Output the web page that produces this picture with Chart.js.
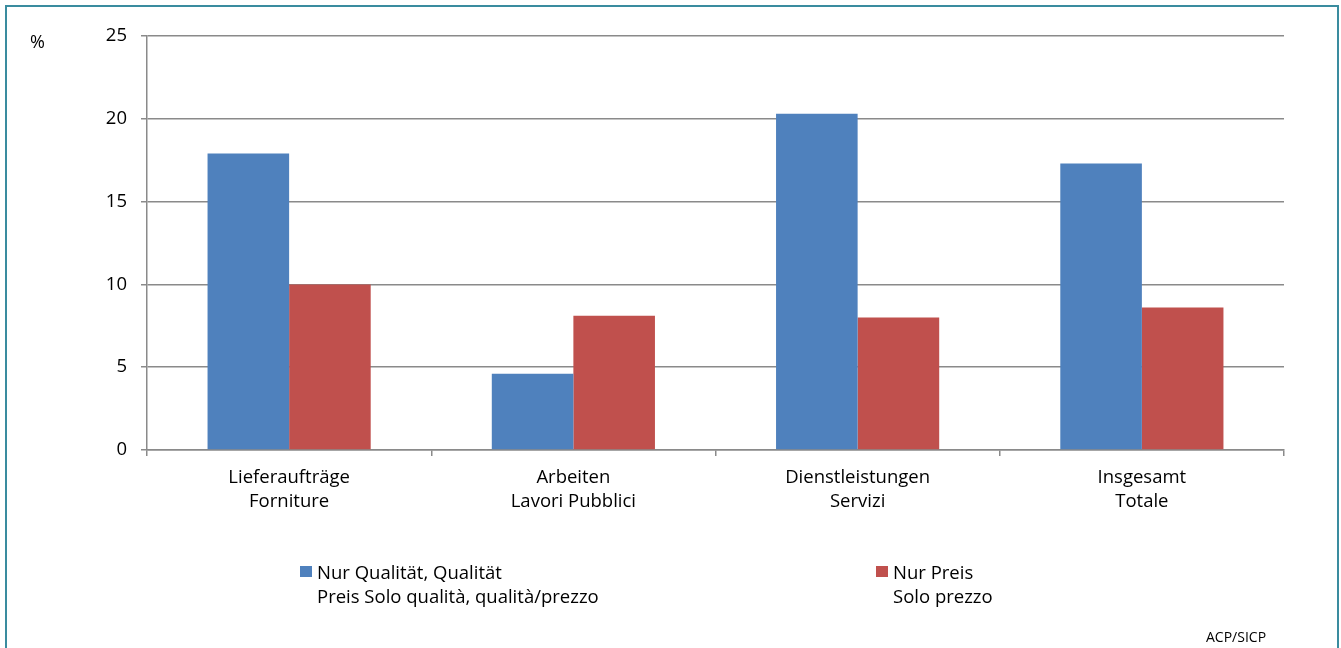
<!DOCTYPE html>
<html>
<head>
<meta charset="utf-8">
<script src="https://cdn.jsdelivr.net/npm/chart.js"></script>
<style>
  html, body { margin: 0; padding: 0; background: #fff; }
  body { width: 1341px; height: 648px; position: relative; overflow: hidden; font-family: 'Open Sans', sans-serif; color: #000; }
  #frame { position: absolute; left: 5px; top: 5px; width: 1334px; height: 700px; border: 2px solid #3a8c9f; box-sizing: border-box; }
  #chartBox { position: absolute; left: 0; top: 0; width: 1341px; height: 648px; }
  .txt { position: absolute; white-space: nowrap; }
  .unit { left: 30px; top: 29px; font-size: 18px; }
  .legend { top: 560px; font-size: 18.5px; line-height: 24px; }
  .legend .sw { position: absolute; left: -17px; top: 6px; width: 12px; height: 11px; }
  .source { left: 1206px; top: 627px; font-size: 14px; }
</style>
</head>
<body>
<div id="frame"></div>
<div id="chartBox"><canvas id="chart"></canvas></div>
<div class="txt unit">%</div>
<div class="txt legend" style="left:317px"><span class="sw" style="background:#4f81bd"></span>Nur Qualität, Qualität<br>Preis Solo qualità, qualità/prezzo</div>
<div class="txt legend" style="left:893px"><span class="sw" style="background:#c0504d"></span>Nur Preis<br>Solo prezzo</div>
<div class="txt source">ACP/SICP</div>
<script>
// categories (two-line labels: German / Italian)
const categories = [
  ['Lieferaufträge', 'Forniture'],
  ['Arbeiten', 'Lavori Pubblici'],
  ['Dienstleistungen', 'Servizi'],
  ['Insgesamt', 'Totale']
];
const qualityValues = [17.9, 4.6, 20.3, 17.3];
const priceValues = [10.0, 8.1, 8.0, 8.6];
const seriesNames = ['Nur Qualität, Qualität Preis Solo qualità, qualità/prezzo', 'Nur Preis Solo prezzo'];
const yTicks = [0, 5, 10, 15, 20, 25];

const GRID = '#8a8a8a';

new Chart(document.getElementById('chart'), {
  type: 'bar',
  data: {
    labels: categories,
    datasets: [
      { label: seriesNames[0], data: qualityValues, backgroundColor: '#4f81bd', barPercentage: 1, categoryPercentage: 0.574 },
      { label: seriesNames[1], data: priceValues, backgroundColor: '#c0504d', barPercentage: 1, categoryPercentage: 0.574 }
    ]
  },
  options: {
    responsive: true,
    maintainAspectRatio: false,
    animation: false,
    layout: { padding: { left: 0, top: 36, right: 57, bottom: 0 } },
    plugins: { legend: { display: false }, tooltip: { enabled: false } },
    scales: {
      x: {
        offset: true,
        grid: { offset: true, drawOnChartArea: false, drawTicks: true, tickLength: 6, color: GRID, lineWidth: 1.5 },
        border: { color: GRID, width: 1.5 },
        ticks: { color: '#000', padding: 10, maxRotation: 0, font: { family: 'Open Sans', size: 18.5, lineHeight: 1.3 } },
        afterFit: s => { s.height = 198; }
      },
      y: {
        min: 0,
        max: 25,
        afterBuildTicks: s => { s.ticks = yTicks.map(v => ({ value: v })); },
        grid: { color: GRID, lineWidth: 1.5, tickLength: 6 },
        border: { color: GRID, width: 1.5 },
        ticks: { color: '#000', padding: 14, font: { family: 'Open Sans', size: 18.5 } },
        afterFit: s => { s.width = 147; }
      }
    }
  }
});
</script>
</body>
</html>
